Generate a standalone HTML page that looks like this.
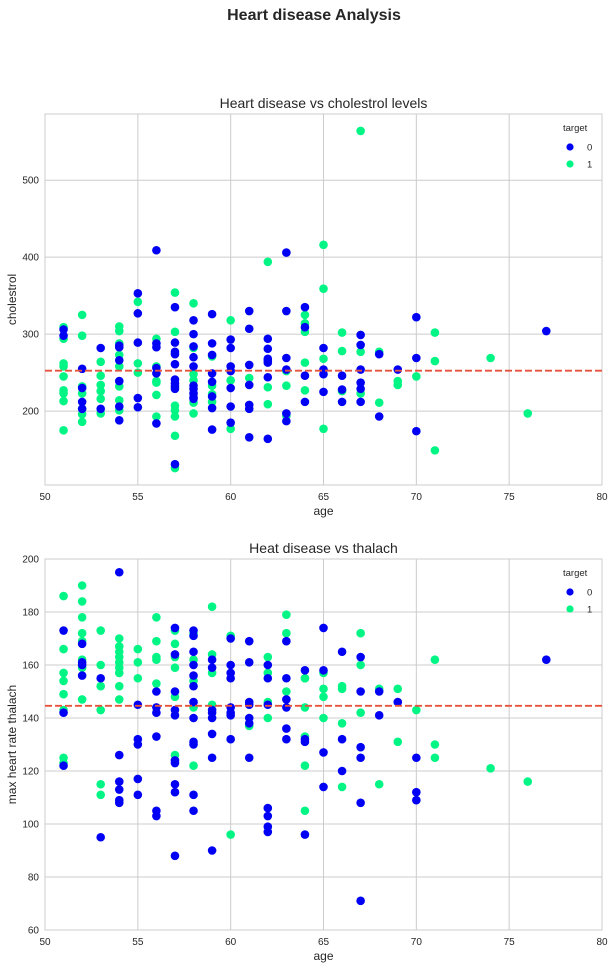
<!DOCTYPE html>
<html><head><meta charset="utf-8"><style>
body{margin:0;background:#fff;font-family:"Liberation Sans",sans-serif;}
svg text{font-family:"Liberation Sans",sans-serif;}
</style></head><body>
<svg id="fig" width="615" height="967" viewBox="0 0 615 967">
<text x="314" y="20" text-anchor="middle" font-size="16" font-weight="bold" fill="#262626">Heart disease Analysis</text>
</svg>
<script>
// Chart 1: cholesterol
const cholAge0 = [51,51,52,52,52,52,53,53,54,54,54,54,54,54,55,55,55,55,55,56,56,56,56,56,56,57,57,57,57,57,57,57,57,57,57,58,58,58,58,58,58,58,58,58,58,59,59,59,59,59,59,59,59,60,60,60,60,60,60,60,61,61,61,61,61,61,61,62,62,62,62,62,62,62,63,63,63,63,63,63,64,64,64,64,65,65,65,65,66,66,66,67,67,67,67,67,67,68,68,69,70,70,70,77];
const cholVal0 = [306,298,255,230,212,203,282,203,285,283,266,239,206,188,353,327,289,217,205,409,288,283,256,249,184,335,289,277,274,261,241,236,232,229,131,318,300,284,270,258,233,229,223,218,216,326,288,273,249,238,219,204,176,293,282,258,252,230,206,185,330,307,260,234,208,203,166,294,281,268,266,263,244,164,406,330,269,254,197,187,335,309,246,212,282,254,248,225,246,228,212,299,286,254,237,229,212,274,193,254,322,269,174,304];
const cholAge1 = [51,51,51,51,51,51,51,51,51,52,52,52,52,52,52,52,53,53,53,53,53,53,54,54,54,54,54,54,54,54,55,55,55,56,56,56,56,56,56,57,57,57,57,57,57,57,58,58,58,58,58,58,59,59,59,59,60,60,60,61,62,62,62,63,63,63,64,64,64,64,64,65,65,65,65,66,66,66,67,67,67,68,68,69,69,70,71,71,71,74,76];
const cholVal1 = [309,294,262,258,245,227,223,213,175,325,298,232,223,203,196,186,264,246,234,226,216,197,310,304,288,273,258,232,214,201,342,262,250,294,258,239,237,221,193,354,303,207,201,193,168,126,340,282,248,240,211,197,271,233,222,212,318,240,177,243,394,231,209,252,233,194,325,314,303,263,227,416,359,268,177,302,278,226,564,277,223,277,211,239,234,245,302,265,149,269,197];
const cholMean = 252.5;
const cholYTicks = [200,300,400,500];
// Chart 2: thalach
const thalAge0 = [51,51,51,52,52,52,52,53,53,54,54,54,54,54,54,55,55,55,55,55,56,56,56,56,56,56,57,57,57,57,57,57,57,57,57,57,58,58,58,58,58,58,58,58,58,58,58,58,59,59,59,59,59,59,59,59,60,60,60,60,60,60,60,60,61,61,61,61,61,61,61,62,62,62,62,62,62,62,63,63,63,63,63,63,64,64,64,64,65,65,65,65,66,66,66,67,67,67,67,67,67,68,68,69,70,70,70,77];
const thalVal0 = [173,142,122,168,161,160,156,155,95,195,126,116,113,109,108,145,132,130,117,111,150,144,142,133,105,103,174,164,150,143,141,124,123,115,112,88,173,171,165,160,156,152,146,140,131,130,111,105,162,159,143,142,140,134,125,90,170,160,157,155,144,142,141,132,169,161,146,145,140,138,125,160,155,145,106,103,99,97,169,155,147,144,136,132,158,132,131,96,174,158,127,114,165,132,120,163,150,129,125,108,71,150,141,146,125,112,109,162];
const thalAge1 = [51,51,51,51,51,51,51,51,52,52,52,52,52,52,52,52,53,53,53,53,53,53,54,54,54,54,54,54,54,54,54,55,55,55,56,56,56,56,56,57,57,57,57,57,57,58,58,58,58,58,59,59,59,59,60,60,61,62,62,62,62,63,63,63,64,64,64,64,64,64,65,65,65,65,66,66,66,66,67,67,67,68,68,69,69,70,71,71,71,74,76];
const thalVal1 = [186,166,157,154,149,143,125,123,190,184,178,172,169,162,159,147,173,160,152,143,115,111,170,167,165,163,161,159,157,152,147,166,161,155,178,169,163,162,153,173,168,163,159,148,126,172,162,154,144,122,182,164,157,145,171,96,137,163,157,146,140,179,172,150,155,155,144,133,122,105,157,151,148,140,152,151,138,114,172,160,142,151,115,151,131,143,162,130,125,121,116];
const thalMean = 144.6;
const thalYTicks = [60,80,100,120,140,160,180,200];
const xTicks = [50,55,60,65,70,75,80];

const NS="http://www.w3.org/2000/svg";
const svg=document.getElementById('fig');
function mk(tag,attrs,parent){const e=document.createElementNS(NS,tag);for(const k in attrs)e.setAttribute(k,attrs[k]);(parent||svg).appendChild(e);return e;}

function chart(cfg){
  const L=45,R=602,T=cfg.top,B=cfg.bottom;
  const xs=v=>L+(v-50)/30*(R-L);
  const ys=v=>B-(v-cfg.ymin)/(cfg.ymax-cfg.ymin)*(B-T);
  const g=mk('g',{});
  
  
  mk('rect',{x:L,y:T,width:R-L,height:B-T,fill:'#fff',stroke:'#cccccc','stroke-width':1},g);
  xTicks.forEach(t=>{
    const x=xs(t);
    const ln=mk('line',{x1:x,x2:x,y1:T,y2:B,stroke:'#cccccc','stroke-width':1},g);
    
    
    const tx=mk('text',{x:x,y:B+15,'text-anchor':'middle','font-size':10,fill:'#262626'},g);
    tx.textContent=t;
    
    
  });
  cfg.yticks.forEach(t=>{
    const y=ys(t);
    const ln=mk('line',{x1:L,x2:R,y1:y,y2:y,stroke:'#cccccc','stroke-width':1},g);
    
    
    const tx=mk('text',{x:L-6,y:y+3.5,'text-anchor':'end','font-size':10,fill:'#262626'},g);
    tx.textContent=t;
    
    
  });
  const title=mk('text',{x:(L+R)/2,y:T-6,'text-anchor':'middle','font-size':14,fill:'#262626'},g);
  title.textContent=cfg.title;
  
  
  const xl=mk('text',{x:(L+R)/2,y:B+30,'text-anchor':'middle','font-size':12,fill:'#262626'},g);
  xl.textContent='age';
  
  
  const yl=mk('text',{x:0,y:0,'text-anchor':'middle','font-size':12,fill:'#262626',transform:`translate(16,${(T+B)/2}) rotate(-90)`},g);
  yl.textContent=cfg.ylabel;
  
  
  const pts=mk('g',{},g);
  
  
  cfg.a1.forEach((a,i)=>{
    const c=mk('circle',{cx:xs(a),cy:ys(cfg.v1[i]),r:4.3,fill:'#00f584'},pts);
    
    
  });
  cfg.a0.forEach((a,i)=>{
    const c=mk('circle',{cx:xs(a),cy:ys(cfg.v0[i]),r:4.3,fill:'#0000f5'},pts);
    
    
  });
  const ml=mk('line',{x1:L,x2:R,y1:ys(cfg.mean),y2:ys(cfg.mean),stroke:'#e5533d','stroke-width':1.8,'stroke-dasharray':'7,3'},g);
  
  
  const lg=mk('g',{},g);
  
  
  const lt=mk('text',{x:563,y:T+17,'font-size':9.5,fill:'#262626'},lg);
  lt.textContent='target';
  
  
  [['0','#0000f5',T+33],['1','#00f584',T+50]].forEach(([lab,col,y])=>{
    const c=mk('circle',{cx:570,cy:y,r:3.6,fill:col},lg);
    
    
    const t=mk('text',{x:587,y:y+3.5,'font-size':9.5,fill:'#262626'},lg);
    t.textContent=lab;
    
    
  });
}
chart({name:'cholesterol-chart',top:114,bottom:485,ymin:104,ymax:586,yticks:cholYTicks,title:'Heart disease vs cholestrol levels',ylabel:'cholestrol',a0:cholAge0,v0:cholVal0,a1:cholAge1,v1:cholVal1,mean:cholMean});
chart({name:'thalach-chart',top:559,bottom:930,ymin:60,ymax:200,yticks:thalYTicks,title:'Heat disease vs thalach',ylabel:'max heart rate thalach',a0:thalAge0,v0:thalVal0,a1:thalAge1,v1:thalVal1,mean:thalMean});
</script>
</body></html>
